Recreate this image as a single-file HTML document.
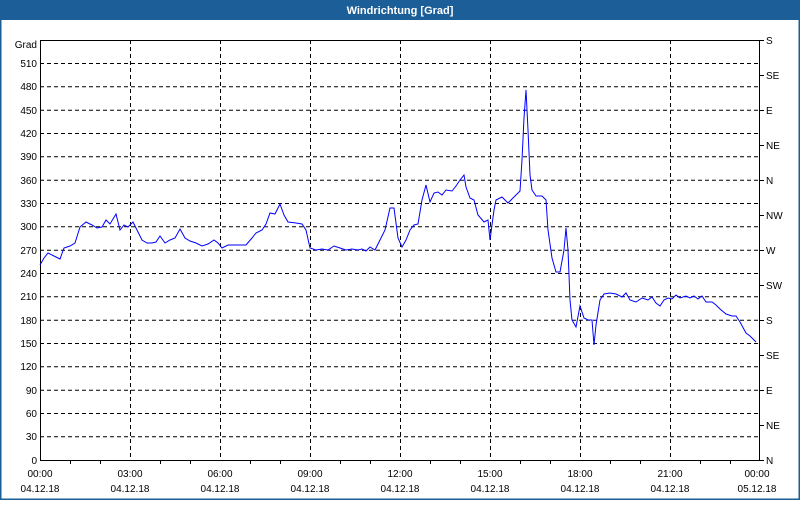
<!DOCTYPE html>
<html><head><meta charset="utf-8"><style>
body{margin:0;width:800px;height:500px;overflow:hidden;background:#fff;font-family:"Liberation Sans",sans-serif}
</style></head><body>
<svg width="800" height="500" xmlns="http://www.w3.org/2000/svg" font-family="Liberation Sans, sans-serif" font-size="10">
<rect x="0" y="0" width="800" height="500" fill="#fff"/>
<rect x="0.5" y="0.5" width="799" height="499" fill="none" stroke="#1c5e98" stroke-width="2"/>
<rect x="0" y="0" width="800" height="20" fill="#1c5e98"/>
<text x="400" y="14" text-anchor="middle" fill="#fff" font-weight="bold" font-size="11">Windrichtung [Grad]</text>
<g stroke="#000" stroke-dasharray="4,3" stroke-width="1">
<line x1="40" x2="760" y1="63.5" y2="63.5"/><line x1="40" x2="760" y1="86.8" y2="86.8"/><line x1="40" x2="760" y1="110.2" y2="110.2"/><line x1="40" x2="760" y1="133.5" y2="133.5"/><line x1="40" x2="760" y1="156.8" y2="156.8"/><line x1="40" x2="760" y1="180.2" y2="180.2"/><line x1="40" x2="760" y1="203.5" y2="203.5"/><line x1="40" x2="760" y1="226.8" y2="226.8"/><line x1="40" x2="760" y1="250.2" y2="250.2"/><line x1="40" x2="760" y1="273.5" y2="273.5"/><line x1="40" x2="760" y1="296.8" y2="296.8"/><line x1="40" x2="760" y1="320.2" y2="320.2"/><line x1="40" x2="760" y1="343.5" y2="343.5"/><line x1="40" x2="760" y1="366.8" y2="366.8"/><line x1="40" x2="760" y1="390.2" y2="390.2"/><line x1="40" x2="760" y1="413.5" y2="413.5"/><line x1="40" x2="760" y1="436.8" y2="436.8"/>
<line x1="130.5" x2="130.5" y1="40" y2="460"/><line x1="220.5" x2="220.5" y1="40" y2="460"/><line x1="310.5" x2="310.5" y1="40" y2="460"/><line x1="400.5" x2="400.5" y1="40" y2="460"/><line x1="490.5" x2="490.5" y1="40" y2="460"/><line x1="580.5" x2="580.5" y1="40" y2="460"/><line x1="670.5" x2="670.5" y1="40" y2="460"/>
</g>
<rect x="40.5" y="40.5" width="719" height="420" fill="none" stroke="#000"/>
<g stroke="#000">
<line x1="70.5" x2="70.5" y1="460" y2="464"/><line x1="100.5" x2="100.5" y1="460" y2="464"/><line x1="160.5" x2="160.5" y1="460" y2="464"/><line x1="190.5" x2="190.5" y1="460" y2="464"/><line x1="250.5" x2="250.5" y1="460" y2="464"/><line x1="280.5" x2="280.5" y1="460" y2="464"/><line x1="340.5" x2="340.5" y1="460" y2="464"/><line x1="370.5" x2="370.5" y1="460" y2="464"/><line x1="430.5" x2="430.5" y1="460" y2="464"/><line x1="460.5" x2="460.5" y1="460" y2="464"/><line x1="520.5" x2="520.5" y1="460" y2="464"/><line x1="550.5" x2="550.5" y1="460" y2="464"/><line x1="610.5" x2="610.5" y1="460" y2="464"/><line x1="640.5" x2="640.5" y1="460" y2="464"/><line x1="700.5" x2="700.5" y1="460" y2="464"/><line x1="730.5" x2="730.5" y1="460" y2="464"/>
<line x1="760" x2="764" y1="40.5" y2="40.5"/><line x1="760" x2="764" y1="75.5" y2="75.5"/><line x1="760" x2="764" y1="110.5" y2="110.5"/><line x1="760" x2="764" y1="145.5" y2="145.5"/><line x1="760" x2="764" y1="180.5" y2="180.5"/><line x1="760" x2="764" y1="215.5" y2="215.5"/><line x1="760" x2="764" y1="250.5" y2="250.5"/><line x1="760" x2="764" y1="285.5" y2="285.5"/><line x1="760" x2="764" y1="320.5" y2="320.5"/><line x1="760" x2="764" y1="355.5" y2="355.5"/><line x1="760" x2="764" y1="390.5" y2="390.5"/><line x1="760" x2="764" y1="425.5" y2="425.5"/><line x1="760" x2="764" y1="460.5" y2="460.5"/>
</g>
<g text-anchor="end" fill="#000">
<text x="37" y="48">Grad</text>
<text x="37" y="67">510</text><text x="37" y="90">480</text><text x="37" y="114">450</text><text x="37" y="137">420</text><text x="37" y="160">390</text><text x="37" y="184">360</text><text x="37" y="207">330</text><text x="37" y="230">300</text><text x="37" y="254">270</text><text x="37" y="277">240</text><text x="37" y="300">210</text><text x="37" y="324">180</text><text x="37" y="347">150</text><text x="37" y="370">120</text><text x="37" y="394">90</text><text x="37" y="417">60</text><text x="37" y="440">30</text><text x="37" y="464">0</text>
</g>
<g fill="#000">
<text x="766" y="44">S</text><text x="766" y="79">SE</text><text x="766" y="114">E</text><text x="766" y="149">NE</text><text x="766" y="184">N</text><text x="766" y="219">NW</text><text x="766" y="254">W</text><text x="766" y="289">SW</text><text x="766" y="324">S</text><text x="766" y="359">SE</text><text x="766" y="394">E</text><text x="766" y="429">NE</text><text x="766" y="464">N</text>
</g>
<g text-anchor="middle" fill="#000">
<text x="40" y="477">00:00</text><text x="130" y="477">03:00</text><text x="220" y="477">06:00</text><text x="310" y="477">09:00</text><text x="400" y="477">12:00</text><text x="490" y="477">15:00</text><text x="580" y="477">18:00</text><text x="670" y="477">21:00</text><text x="757" y="477">00:00</text>
<text x="40" y="492">04.12.18</text><text x="130" y="492">04.12.18</text><text x="220" y="492">04.12.18</text><text x="310" y="492">04.12.18</text><text x="400" y="492">04.12.18</text><text x="490" y="492">04.12.18</text><text x="580" y="492">04.12.18</text><text x="670" y="492">04.12.18</text><text x="757" y="492">05.12.18</text>
</g>
<polyline fill="none" stroke="#0000ff" stroke-width="1" points="40,265 44,258 48,253 54,256 60,259 64,248 70,246 75,243 80,227 86,222 92,225 97,228 102,227 106,220 110,224 116,214 120,230 124,225 128,227 133,222 137,230 142,240 147,243 152,243 156,242 160,236 165,243 170,240 175,238 180,229 185,238 190,241 196,243 202,246 208,244 214,240 218,243 222,248 228,245 236,245 246,245 252,238 256,233 262,230 266,224 270,213 275,214 280,204 284,215 288,222 296,223 302,224 306,230 310,248 316,250 322,249 328,250 334,246 340,248 346,250 352,249 358,250 362,249 366,251 370,247 375,250 380,240 385,230 390,208 394,208 398,238 402,247 406,240 410,230 414,225 418,224 422,200 426,185 430,202 434,193 438,192 442,195 446,190 452,191 456,186 460,180 464,175 466,187 470,198 474,200 478,215 484,222 488,220 490,240 494,210 496,200 502,197 508,203 514,197 520,191 522,160 524,118 526,90 528,130 530,175 532,190 536,196 542,196 546,200 548,230 552,258 556,272 560,272 564,250 566,228 568,250 570,300 572,320 576,327 580,306 584,318 588,320 592,320 594,345 596,325 600,300 604,294 610,293 616,294 622,297 626,293 630,300 636,302 642,298 648,300 652,297 656,303 660,306 664,300 668,298 672,299 676,295 680,298 686,296 690,298 694,296 698,299 702,296 706,302 712,302 716,305 720,309 726,314 732,316 736,316 740,322 746,333 750,336 756,342"/>
</svg>
</body></html>
